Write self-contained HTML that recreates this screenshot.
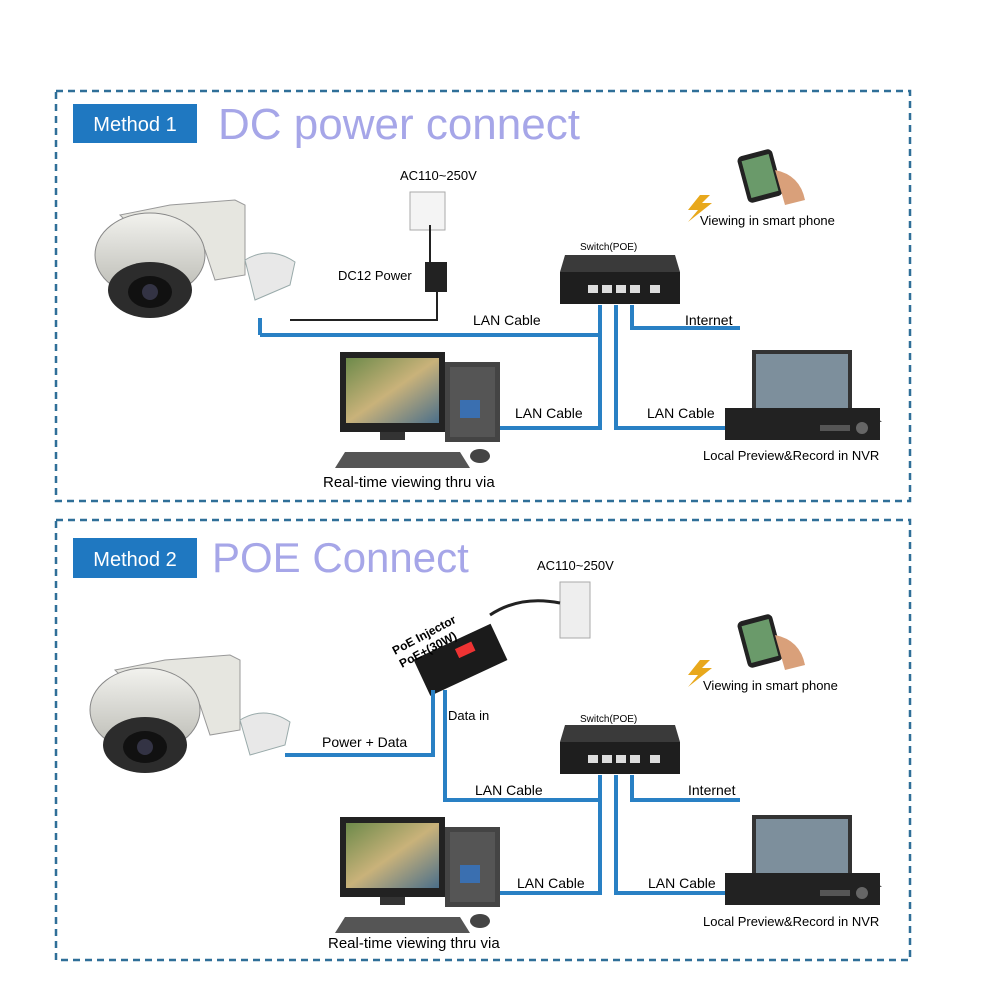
<!DOCTYPE html>
<html><head><meta charset="utf-8"><style>
body{margin:0;background:#fff;}
svg{display:block;font-family:"Liberation Sans",Arial,sans-serif;}
</style></head><body>
<svg width="1001" height="1001" viewBox="0 0 1001 1001" xmlns="http://www.w3.org/2000/svg">
<defs>
<linearGradient id="dome" x1="0" y1="0" x2="0" y2="1"><stop offset="0" stop-color="#f2f2ee"/><stop offset="1" stop-color="#b9b9b2"/></linearGradient>
<linearGradient id="scr" x1="0" y1="0" x2="1" y2="1"><stop offset="0" stop-color="#6d8a4a"/><stop offset="0.5" stop-color="#c9b27a"/><stop offset="1" stop-color="#4b6f8a"/></linearGradient>
<g id="cam">
 <path d="M120 215 L170 205 L235 200 L245 205 L245 275 L215 280 L205 250 L150 245 Z" fill="#e6e6e0" stroke="#999" stroke-width="1"/>
 <ellipse cx="150" cy="255" rx="55" ry="42" fill="url(#dome)" stroke="#888"/>
 <ellipse cx="150" cy="290" rx="42" ry="28" fill="#2c2c2c"/>
 <ellipse cx="150" cy="292" rx="22" ry="16" fill="#111"/>
 <circle cx="150" cy="292" r="8" fill="#334"/>
</g>
<g id="pc">
 <rect x="340" y="352" width="105" height="80" fill="#222"/>
 <rect x="346" y="358" width="93" height="65" fill="url(#scr)"/>
 <rect x="380" y="432" width="25" height="8" fill="#333"/>
 <rect x="445" y="362" width="55" height="80" fill="#444"/>
 <rect x="450" y="367" width="45" height="70" fill="#555"/>
 <rect x="460" y="400" width="20" height="18" fill="#3a6fb0"/>
 <path d="M345 452 L460 452 L470 468 L335 468 Z" fill="#555"/>
 <ellipse cx="480" cy="456" rx="10" ry="7" fill="#444"/>
</g>
<g id="nvr">
 <rect x="752" y="350" width="100" height="62" fill="#333"/>
 <rect x="756" y="354" width="92" height="54" fill="#7d8f9c"/>
 <path d="M740 412 L870 412 L882 422 L728 422 Z" fill="#555"/>
 <rect x="725" y="408" width="155" height="32" fill="#222"/>
 <rect x="820" y="425" width="30" height="6" fill="#555"/>
 <circle cx="862" cy="428" r="6" fill="#666"/>
</g>
<g id="sw">
 <path d="M565 255 L675 255 L680 272 L560 272 Z" fill="#3a3a3a"/>
 <rect x="560" y="272" width="120" height="32" fill="#1e1e1e"/>
 <rect x="588" y="285" width="10" height="8" fill="#ddd"/><rect x="602" y="285" width="10" height="8" fill="#ddd"/>
 <rect x="616" y="285" width="10" height="8" fill="#ddd"/><rect x="630" y="285" width="10" height="8" fill="#ddd"/>
 <rect x="650" y="285" width="10" height="8" fill="#ddd"/>
</g>
<g id="phone">
 <rect x="742" y="152" width="36" height="48" rx="5" fill="#222" transform="rotate(-15 760 176)"/>
 <rect x="746" y="157" width="28" height="38" fill="#6a9a6a" transform="rotate(-15 760 176)"/>
 <path d="M775 170 Q800 175 805 200 L785 205 Z" fill="#d9a07a"/>
 <path d="M700 195 L688 210 L698 210 L688 222 L712 203 L702 203 L710 195 Z" fill="#e8a81c"/>
</g>
</defs>
<g fill="none" stroke="#2f6f98" stroke-width="2.5" stroke-dasharray="7,5">
<rect x="56" y="91" width="854" height="410"/>
<rect x="56" y="520" width="854" height="440"/>
</g>
<!-- Method 1 -->
<rect x="73" y="104" width="124" height="39" fill="#1f78c1"/>
<text x="135" y="131" fill="#fff" font-size="20" text-anchor="middle">Method 1</text>
<text x="218" y="139" fill="#a6a6e8" font-size="44">DC power connect</text>
<use href="#cam"/>
<use href="#phone"/>
<text x="700" y="225" font-size="13">Viewing in smart phone</text>
<text x="400" y="180" font-size="13">AC110~250V</text>
<rect x="410" y="192" width="35" height="38" fill="#f4f4f4" stroke="#aaa"/>
<path d="M430 225 L430 262 M437 290 L437 320 L290 320" stroke="#222" stroke-width="2" fill="none"/>
<rect x="425" y="262" width="22" height="30" fill="#222"/>
<text x="338" y="280" font-size="13">DC12 Power</text>
<use href="#sw"/>
<text x="580" y="250" font-size="10">Switch(POE)</text>
<g stroke="#2980c4" stroke-width="4" fill="none">
<path d="M260 335 L600 335 M260 318 L260 335"/>
<path d="M600 305 L600 428 L500 428"/>
<path d="M616 305 L616 428 L725 428"/>
<path d="M632 305 L632 328 L740 328"/>
</g>
<path d="M245 260 Q270 245 295 262 L290 285 L255 300 Z" fill="#e8e8e8" stroke="#9aa"/>
<text x="473" y="325" font-size="14">LAN Cable</text>
<text x="685" y="325" font-size="14">Internet</text>
<text x="515" y="418" font-size="14">LAN Cable</text>
<text x="647" y="418" font-size="14">LAN Cable</text>
<use href="#pc"/>
<text x="323" y="487" font-size="15">Real-time viewing thru via</text>
<use href="#nvr"/>
<text x="703" y="460" font-size="13">Local Preview&amp;Record in NVR</text>
<!-- Method 2 -->
<rect x="73" y="538" width="124" height="40" fill="#1f78c1"/>
<text x="135" y="566" fill="#fff" font-size="20" text-anchor="middle">Method 2</text>
<text x="212" y="572" fill="#a6a6e8" font-size="42">POE Connect</text>
<use href="#cam" transform="translate(-5 455)"/>
<use href="#phone" transform="translate(0 465)"/>
<text x="703" y="690" font-size="13">Viewing in smart phone</text>
<text x="537" y="570" font-size="13">AC110~250V</text>
<rect x="560" y="582" width="30" height="56" fill="#eee" stroke="#aaa"/>
<path d="M490 615 Q520 595 560 603" stroke="#222" stroke-width="3" fill="none"/>
<g transform="rotate(-25 460 660)"><rect x="418" y="640" width="85" height="40" fill="#1b1b1b"/><rect x="460" y="648" width="18" height="10" fill="#e33"/></g>
<text x="395" y="655" font-size="12" font-weight="bold" transform="rotate(-28 395 655)">PoE Injector</text>
<text x="402" y="668" font-size="12" font-weight="bold" transform="rotate(-28 402 668)">PoE+(30W)</text>
<text x="448" y="720" font-size="13">Data in</text>
<use href="#sw" transform="translate(0 470)"/>
<text x="580" y="722" font-size="10">Switch(POE)</text>
<g stroke="#2980c4" stroke-width="4" fill="none">
<path d="M285 755 L433 755 L433 690"/>
<path d="M445 690 L445 800 L600 800"/>
<path d="M600 775 L600 893 L500 893"/>
<path d="M616 775 L616 893 L725 893"/>
<path d="M632 775 L632 800 L740 800"/>
</g>
<path d="M240 720 Q265 705 290 722 L285 745 L250 755 Z" fill="#e8e8e8" stroke="#9aa"/>
<text x="322" y="747" font-size="14">Power + Data</text>
<text x="475" y="795" font-size="14">LAN Cable</text>
<text x="688" y="795" font-size="14">Internet</text>
<text x="517" y="888" font-size="14">LAN Cable</text>
<text x="648" y="888" font-size="14">LAN Cable</text>
<use href="#pc" transform="translate(0 465)"/>
<text x="328" y="948" font-size="15">Real-time viewing thru via</text>
<use href="#nvr" transform="translate(0 465)"/>
<text x="703" y="926" font-size="13">Local Preview&amp;Record in NVR</text>
</svg>
</body></html>
